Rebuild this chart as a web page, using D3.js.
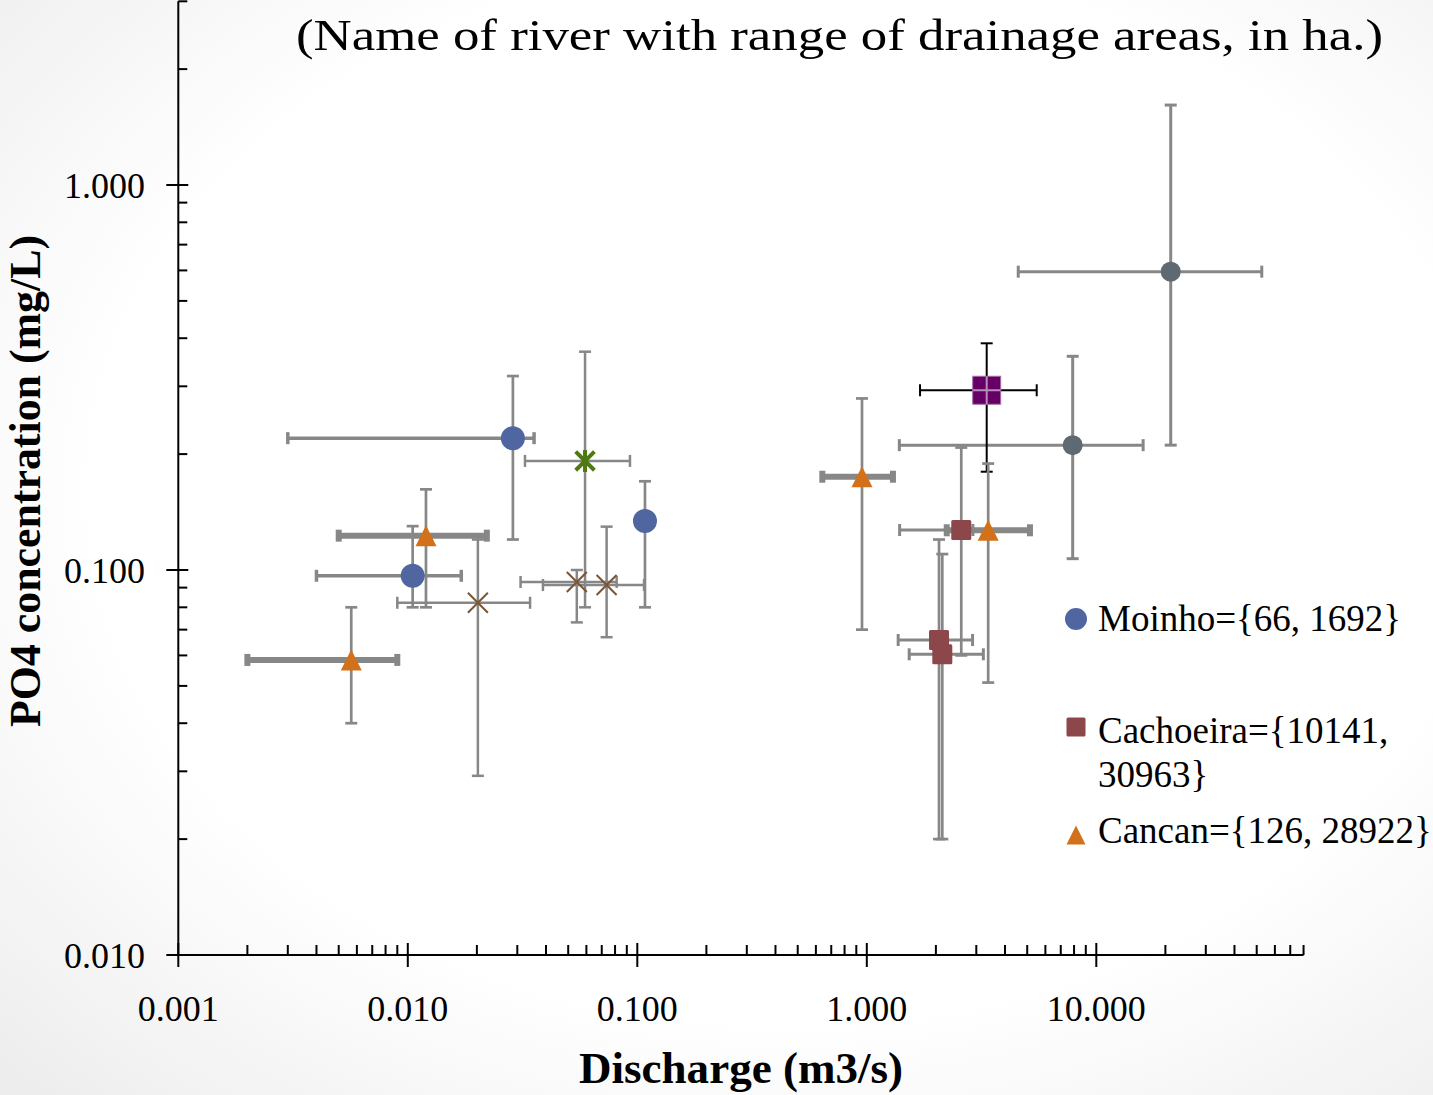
<!DOCTYPE html>
<html>
<head>
<meta charset="utf-8">
<script src="https://cdn.jsdelivr.net/npm/d3@7"></script>
<style>
  html, body { margin: 0; padding: 0; background: #fff; }
  svg { display: block; }
</style>
</head>
<body>
<svg id="chart" width="1433" height="1095"></svg>
<script>
// ---- data: discharge (m3/s) vs PO4 (mg/L), mean with min/max ranges ----
const moinhoX    = [0.0287, 0.0105, 0.108];
const moinhoY    = [0.220, 0.0966, 0.134];
const moinhoXLo  = [0.0030, 0.0040, null];
const moinhoXHi  = [0.0355, 0.0171, null];
const moinhoYLo  = [0.120, 0.080, 0.080];
const moinhoYHi  = [0.319, 0.130, 0.170];

const cachoeiraX   = [2.58, 2.064, 2.133];
const cachoeiraY   = [0.127, 0.0658, 0.0604];
const cachoeiraXLo = [1.39, 1.37, 1.53];
const cachoeiraXHi = [2.90, 2.89, 3.22];
const cachoeiraYLo = [0.060, 0.020, 0.020];
const cachoeiraYHi = [0.208, 0.120, 0.110];

const cancanX   = [0.00567, 0.0120, 0.953, 3.38];
const cancanY   = [0.0584, 0.1228, 0.1747, 0.1268];
const cancanXLo = [0.0020, 0.0050, 0.64, 2.23];
const cancanXHi = [0.0090, 0.0221, 1.30, 5.14];
const cancanYLo = [0.040, 0.080, 0.070, 0.051];
const cancanYHi = [0.080, 0.162, 0.279, 0.189];

const grayX   = [21.1, 7.89];
const grayY   = [0.5955, 0.211];
const grayXLo = [4.57, 1.386];
const grayXHi = [52.6, 16.0];
const grayYLo = [0.211, 0.107];
const grayYHi = [1.613, 0.359];

const purpleX   = [3.33];
const purpleY   = [0.293];
const purpleXLo = [1.706];
const purpleXHi = [5.5];
const purpleYLo = [0.180];
const purpleYHi = [0.388];

const greenX   = [0.0592];
const greenY   = [0.192];
const greenXLo = [0.0324];
const greenXHi = [0.0929];
const greenYLo = [0.080];
const greenYHi = [0.369];

const brownX   = [0.0202, 0.0545, 0.0735];
const brownY   = [0.0822, 0.0931, 0.0914];
const brownXLo = [0.0090, 0.0310, 0.0388];
const brownXHi = [0.0341, 0.0813, 0.107];
const brownYLo = [0.0292, 0.0731, 0.0669];
const brownYHi = [0.120, 0.100, 0.1296];

const xDomain = [0.001, 80];
const yDomain = [0.01, 3];
const xMajorTicks = [0.001, 0.01, 0.1, 1, 10];
const yMajorTicks = [0.01, 0.1, 1];
const xTickLabels = ["0.001", "0.010", "0.100", "1.000", "10.000"];
const yTickLabels = ["0.010", "0.100", "1.000"];

const titleText  = "(Name of river with range of drainage areas, in ha.)";
const xAxisTitle = "Discharge (m3/s)";
const yAxisTitle = "PO4 concentration (mg/L)";
const legendNames = [["Moinho={66, 1692}"], ["Cachoeira={10141,", "30963}"], ["Cancan={126, 28922}"]];

// ---- build series table ----
function rows(xs, ys, xlo, xhi, ylo, yhi) {
  return xs.map((x, i) => ({x, y: ys[i], xLo: xlo[i], xHi: xhi[i], yLo: ylo[i], yHi: yhi[i]}));
}
const series = [
  {name: "gray",   marker: "circle",   color: "#5f6971", size: 10,   bar: "#878787", xw: 3,   yw: 3,   capW: 3, rows: rows(grayX, grayY, grayXLo, grayXHi, grayYLo, grayYHi)},
  {name: "purple", marker: "square",   color: "#660066", size: 14,   bar: "#000000", xw: 2,   yw: 2,   capW: 2, rows: rows(purpleX, purpleY, purpleXLo, purpleXHi, purpleYLo, purpleYHi)},
  {name: "green",  marker: "asterisk", color: "#4f7a12", size: 11,   bar: "#878787", xw: 2.5, yw: 2.5, capW: 2.5, rows: rows(greenX, greenY, greenXLo, greenXHi, greenYLo, greenYHi)},
  {name: "brown",  marker: "x",        color: "#7b5535", size: 10,   bar: "#878787", xw: 2.5, yw: 2.5, capW: 2.5, rows: rows(brownX, brownY, brownXLo, brownXHi, brownYLo, brownYHi)},
  {name: "moinho", marker: "circle",   color: "#5066a0", size: 12,   bar: "#878787", xw: 3.5, yw: 2.7, capW: 3.5, rows: rows(moinhoX, moinhoY, moinhoXLo, moinhoXHi, moinhoYLo, moinhoYHi)},
  {name: "cachoeira", marker: "square", color: "#8b4749", size: 10,  bar: "#878787", xw: 3,   yw: 2.7, capW: 3, rows: rows(cachoeiraX, cachoeiraY, cachoeiraXLo, cachoeiraXHi, cachoeiraYLo, cachoeiraYHi)},
  {name: "cancan", marker: "triangle", color: "#d2711a", size: 10.5, bar: "#878787", xw: 6,   yw: 2.7, capW: 6, rows: rows(cancanX, cancanY, cancanXLo, cancanXHi, cancanYLo, cancanYHi)}
];

// ---- layout ----
const svg = d3.select("#chart");
const W = 1433, H = 1095;
const x0 = 178.3, decadeX = 229.5;
const yBase = 955, decadeY = 385;
const x = d3.scaleLog().domain(xDomain)
  .range([x0, x0 + decadeX * Math.log10(xDomain[1] / xDomain[0])]);
const y = d3.scaleLog().domain(yDomain)
  .range([yBase, yBase - decadeY * Math.log10(yDomain[1] / yDomain[0])]);

// soft vignette background
const defs = svg.append("defs");
const rg = defs.append("radialGradient").attr("id", "bg")
  .attr("cx", "55%").attr("cy", "45%").attr("r", "78%");
rg.append("stop").attr("offset", "0.62").attr("stop-color", "#ffffff");
rg.append("stop").attr("offset", "1").attr("stop-color", "#ececec");
svg.append("rect").attr("width", W).attr("height", H).attr("fill", "url(#bg)");

const serif = "'Liberation Serif', 'Times New Roman', serif";

// title
svg.append("text").attr("x", 296).attr("y", 50)
  .attr("font-family", serif).attr("font-size", 44)
  .attr("textLength", 1087).attr("lengthAdjust", "spacingAndGlyphs")
  .attr("fill", "#000").text(titleText);

// ---- axes ----
const axisG = svg.append("g").attr("stroke", "#000").attr("stroke-width", 2);
const [xa, xb] = x.range();
const [ya, yb] = y.range();
axisG.append("line").attr("x1", xa).attr("x2", xb).attr("y1", yBase).attr("y2", yBase);
axisG.append("line").attr("x1", xa).attr("x2", xa).attr("y1", ya).attr("y2", yb);

const isMajor = v => Math.abs(Math.log10(v) - Math.round(Math.log10(v))) < 1e-9;
x.ticks().forEach(v => {
  const px = x(v);
  if (isMajor(v)) axisG.append("line").attr("x1", px).attr("x2", px).attr("y1", yBase - 12).attr("y2", yBase + 12);
  else axisG.append("line").attr("x1", px).attr("x2", px).attr("y1", yBase - 10).attr("y2", yBase);
});
y.ticks().forEach(v => {
  const py = y(v);
  if (isMajor(v)) axisG.append("line").attr("x1", xa - 12).attr("x2", xa + 10).attr("y1", py).attr("y2", py);
  else axisG.append("line").attr("x1", xa).attr("x2", xa + 9).attr("y1", py).attr("y2", py);
});

svg.append("g").selectAll("text").data(xMajorTicks).join("text")
  .attr("x", d => x(d)).attr("y", 1021)
  .attr("text-anchor", "middle").attr("font-family", serif).attr("font-size", 36)
  .text((d, i) => xTickLabels[i]);
svg.append("g").selectAll("text").data(yMajorTicks).join("text")
  .attr("x", 145).attr("y", d => y(d)).attr("dy", "0.35em")
  .attr("text-anchor", "end").attr("font-family", serif).attr("font-size", 36)
  .text((d, i) => yTickLabels[i]);

svg.append("text").attr("x", 741).attr("y", 1083)
  .attr("text-anchor", "middle").attr("font-family", serif).attr("font-weight", "bold")
  .attr("font-size", 44).attr("textLength", 324).attr("lengthAdjust", "spacingAndGlyphs")
  .text(xAxisTitle);
svg.append("text").attr("transform", "translate(40,481) rotate(-90)")
  .attr("text-anchor", "middle").attr("font-family", serif).attr("font-weight", "bold")
  .attr("font-size", 44).attr("textLength", 492).attr("lengthAdjust", "spacingAndGlyphs")
  .text(yAxisTitle);

// ---- error bars ----
const barsG = svg.append("g");
const cap = 6;
series.forEach(s => {
  s.rows.forEach(r => {
    const cx = x(r.x), cy = y(r.y);
    if (r.xLo != null) {
      const l = x(r.xLo), h = x(r.xHi);
      barsG.append("line").attr("x1", l).attr("x2", h).attr("y1", cy).attr("y2", cy)
        .attr("stroke", s.bar).attr("stroke-width", s.xw);
      [l, h].forEach(px => barsG.append("line").attr("x1", px).attr("x2", px)
        .attr("y1", cy - cap).attr("y2", cy + cap).attr("stroke", s.bar).attr("stroke-width", s.capW));
    }
    if (r.yLo != null) {
      const l = y(r.yLo), h = y(r.yHi);
      barsG.append("line").attr("x1", cx).attr("x2", cx).attr("y1", l).attr("y2", h)
        .attr("stroke", s.bar).attr("stroke-width", s.yw);
      [l, h].forEach(py => barsG.append("line").attr("x1", cx - cap).attr("x2", cx + cap)
        .attr("y1", py).attr("y2", py).attr("stroke", s.bar).attr("stroke-width", s.yw));
    }
  });
});

// ---- markers ----
function drawMarker(g, type, cx, cy, size, color) {
  if (type === "circle") {
    g.append("circle").attr("cx", cx).attr("cy", cy).attr("r", size).attr("fill", color);
  } else if (type === "square") {
    g.append("rect").attr("x", cx - size).attr("y", cy - size).attr("width", 2 * size).attr("height", 2 * size)
      .attr("rx", 1.5).attr("fill", color);
  } else if (type === "triangle") {
    const hh = size;
    g.append("path").attr("d", `M${cx},${cy - hh} L${cx + size},${cy + hh} L${cx - size},${cy + hh} Z`)
      .attr("fill", color);
  } else if (type === "x") {
    g.append("path").attr("d", `M${cx - size},${cy - size} L${cx + size},${cy + size} M${cx - size},${cy + size} L${cx + size},${cy - size}`)
      .attr("stroke", color).attr("stroke-width", 2).attr("fill", "none");
  } else if (type === "asterisk") {
    const d = size * 0.85;
    g.append("path").attr("d", `M${cx - d},${cy - d} L${cx + d},${cy + d} M${cx - d},${cy + d} L${cx + d},${cy - d} M${cx},${cy - size} L${cx},${cy + size}`)
      .attr("stroke", color).attr("stroke-width", 4).attr("fill", "none");
  }
}
const markG = svg.append("g");
series.forEach(s => {
  s.rows.forEach(r => {
    drawMarker(markG, s.marker, x(r.x), y(r.y), s.size, s.color);
    if (s.name === "purple") {
      // light inner cross on the large square marker
      markG.append("path")
        .attr("d", `M${x(r.x) - s.size},${y(r.y)} L${x(r.x) + s.size},${y(r.y)} M${x(r.x)},${y(r.y) - s.size} L${x(r.x)},${y(r.y) + s.size}`)
        .attr("stroke", "#b58fb5").attr("stroke-width", 2);
      markG.append("rect").attr("x", x(r.x) - s.size).attr("y", y(r.y) - s.size)
        .attr("width", 2 * s.size).attr("height", 2 * s.size)
        .attr("fill", "none").attr("stroke", "#a070a0").attr("stroke-width", 1);
    }
  });
});

// ---- legend ----
const legendG = svg.append("g");
const legendSeries = [series[4], series[5], series[6]];
const legendRowsY = [[631], [743, 787], [843]];
const legendMarkerY = [619, 727, 835];
legendSeries.forEach((s, i) => {
  const sz = s.marker === "circle" ? 11 : 9.5;
  drawMarker(legendG, s.marker, 1076, legendMarkerY[i], sz, s.color);
  legendNames[i].forEach((line, j) => {
    legendG.append("text").attr("x", 1098).attr("y", legendRowsY[i][j])
      .attr("font-family", serif).attr("font-size", 37).text(line);
  });
});
</script>
</body>
</html>
